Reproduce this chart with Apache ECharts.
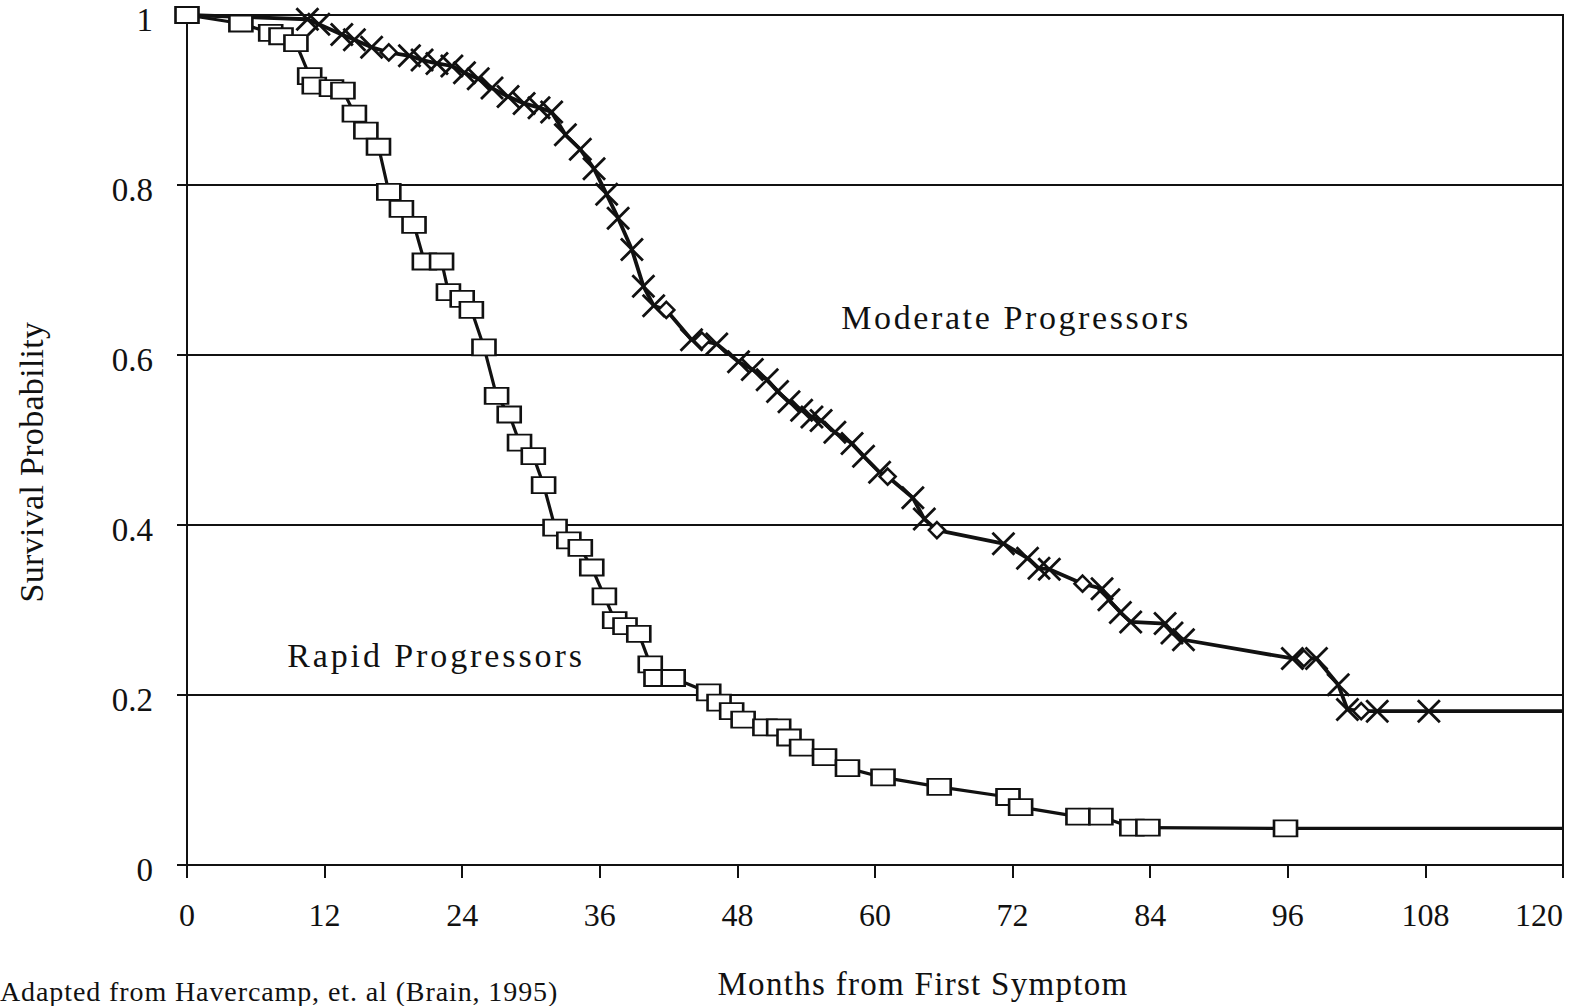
<!DOCTYPE html>
<html>
<head>
<meta charset="utf-8">
<title>Survival Probability — Rapid vs Moderate Progressors</title>
<script src="https://cdn.jsdelivr.net/npm/echarts@6/dist/echarts.min.js"></script>
<style>
  html, body { margin: 0; padding: 0; background: #fff; }
  #chart { width: 1577px; height: 1006px; }
</style>
</head>
<body>
<div id="chart"></div>
<script>
// Kaplan–Meier style survival estimates, months from first symptom.
const xTicks = [0, 12, 24, 36, 48, 60, 72, 84, 96, 108, 120];
const yTicks = [0, 0.2, 0.4, 0.6, 0.8, 1];

// Rapid progressors (square markers); last entry is the end of follow-up.
const rapidMonths = [0, 4.7, 7.3, 8.2, 9.5, 10.7, 11.1, 12.6, 13.6, 14.6,
  15.6, 16.7, 17.6, 18.7, 19.8, 20.7, 22.2, 22.8, 24.0, 24.8,
  25.9, 27.0, 28.1, 29.0, 30.2, 31.1, 32.1, 33.3, 34.3, 35.3,
  36.4, 37.3, 38.2, 39.4, 40.4, 40.9, 42.4, 45.5, 46.4, 47.5,
  48.5, 50.4, 51.6, 52.5, 53.6, 55.6, 57.6, 60.7, 65.6, 71.6,
  72.7, 77.7, 79.7, 82.4, 83.8, 95.8, 120];
const rapidSurvival = [1.0, 0.99, 0.979, 0.975, 0.967, 0.928, 0.917, 0.914, 0.911, 0.884,
  0.864, 0.845, 0.792, 0.772, 0.753, 0.710, 0.710, 0.674, 0.666, 0.653,
  0.609, 0.552, 0.530, 0.497, 0.481, 0.447, 0.397, 0.382, 0.373, 0.350,
  0.316, 0.288, 0.281, 0.272, 0.236, 0.220, 0.220, 0.203, 0.191, 0.181,
  0.171, 0.162, 0.162, 0.150, 0.138, 0.127, 0.114, 0.103, 0.092, 0.080,
  0.068, 0.057, 0.057, 0.044, 0.044, 0.043, 0.043];

// Moderate progressors (cross markers); first and last entries are start / end of follow-up.
const moderateMonths = [0, 10.5, 11.5, 13.5, 14.6, 16.1, 19.4, 20.5, 21.8, 23.1,
  24.2, 25.4, 26.6, 28.0, 29.4, 30.7, 31.8, 33.0, 34.3, 35.5,
  36.6, 37.6, 38.8, 39.8, 40.7, 44.0, 46.2, 48.1, 49.3, 50.6,
  51.5, 52.5, 53.6, 54.5, 55.3, 56.5, 58.0, 59.0, 60.4, 63.3,
  64.3, 71.2, 73.3, 74.3, 75.2, 79.8, 80.4, 81.4, 82.3, 85.3,
  85.9, 86.9, 96.4, 98.5, 100.4, 101.2, 103.8, 108.3, 120];
const moderateSurvival = [1.0, 0.995, 0.989, 0.977, 0.971, 0.962, 0.952, 0.947, 0.943, 0.940,
  0.932, 0.925, 0.914, 0.904, 0.896, 0.891, 0.886, 0.859, 0.842, 0.819,
  0.789, 0.761, 0.724, 0.681, 0.658, 0.618, 0.613, 0.592, 0.583, 0.571,
  0.557, 0.545, 0.535, 0.527, 0.523, 0.509, 0.496, 0.481, 0.462, 0.432,
  0.407, 0.378, 0.361, 0.349, 0.348, 0.325, 0.312, 0.297, 0.286, 0.284,
  0.273, 0.265, 0.243, 0.243, 0.212, 0.183, 0.181, 0.181, 0.181];

// Moderate progressors, points drawn with an open diamond.
const moderateOpenMonths = [17.6, 41.8, 44.9, 61.1, 65.4, 78.1, 97.4, 102.4];
const moderateOpenSurvival = [0.956, 0.653, 0.617, 0.457, 0.394, 0.331, 0.243, 0.181];

const labels = {
  moderate: 'Moderate Progressors',
  rapid: 'Rapid Progressors',
  xTitle: 'Months from First Symptom',
  yTitle: 'Survival Probability',
  source: 'Adapted from Havercamp, et. al (Brain, 1995)'
};

const FONT = "'Liberation Serif', 'Times New Roman', serif";
const INK = '#111';
const CROSS = 'path://M0,0L20,20M20,0L0,20';

// Letter spacing (px) for the typeset captions.
const captionSpacing = {};
captionSpacing[labels.moderate] = 2.6;
captionSpacing[labels.rapid] = 2.9;
captionSpacing[labels.xTitle] = 1.3;
captionSpacing[labels.yTitle] = 0.3;
captionSpacing[labels.source] = 0.9;

const squareStyle = { color: '#fff', borderColor: INK, borderWidth: 2.2 };
const crossStyle = { color: INK, borderColor: INK, borderWidth: 2.8 };
const diamondStyle = { color: '#fff', borderColor: INK, borderWidth: 2.6 };

const rapidData = rapidMonths.map((m, i) => {
  const item = { value: [m, rapidSurvival[i]] };
  if (i === rapidMonths.length - 1) item.symbol = 'none';
  return item;
});

const moderatePoints = moderateMonths.map((m, i) => ({
  m, s: moderateSurvival[i],
  kind: (i === 0 || i === moderateMonths.length - 1) ? 'none' : 'cross'
})).concat(moderateOpenMonths.map((m, i) => ({ m, s: moderateOpenSurvival[i], kind: 'open' })))
  .sort((a, b) => a.m - b.m);

const moderateData = moderatePoints.map(p => {
  if (p.kind === 'none') return { value: [p.m, p.s], symbol: 'none' };
  if (p.kind === 'open') return { value: [p.m, p.s], symbol: 'diamond', symbolSize: [16, 16], itemStyle: diamondStyle };
  return { value: [p.m, p.s], symbol: CROSS, symbolSize: [22, 22], itemStyle: crossStyle };
});

const chart = echarts.init(document.getElementById('chart'), null, { renderer: 'svg' });

const option = {
  backgroundColor: '#fff',
  animation: false,
  grid: {
    left: 187, right: 14, top: 15, bottom: 141,
    outerBoundsMode: 'none',
    containLabel: false,
    show: true, borderColor: INK, borderWidth: 2
  },
  xAxis: {
    type: 'value', min: xTicks[0], max: xTicks[xTicks.length - 1],
    interval: xTicks[1] - xTicks[0],
    axisLine: { show: true, lineStyle: { color: INK, width: 2 } },
    axisTick: { show: true, length: 13, lineStyle: { color: INK, width: 2 } },
    axisLabel: { color: INK, fontFamily: FONT, fontSize: 32, margin: 34, alignMaxLabel: 'right' },
    splitLine: { show: false }
  },
  yAxis: {
    type: 'value', min: yTicks[0], max: yTicks[yTicks.length - 1],
    interval: yTicks[1] - yTicks[0],
    axisLine: { show: true, lineStyle: { color: INK, width: 2 } },
    axisTick: { show: true, length: 10, lineStyle: { color: INK, width: 2 } },
    axisLabel: { color: INK, fontFamily: FONT, fontSize: 33, margin: 34, verticalAlign: 'top', lineHeight: 10 },
    splitLine: { show: true, lineStyle: { color: INK, width: 1.8 } }
  },
  series: [
    {
      name: labels.moderate,
      type: 'line',
      data: moderateData,
      showAllSymbol: true,
      lineStyle: { color: INK, width: 3.8 },
      itemStyle: crossStyle,
      z: 3
    },
    {
      name: labels.rapid,
      type: 'line',
      data: rapidData,
      showAllSymbol: true,
      symbol: 'rect',
      symbolSize: [23, 16],
      lineStyle: { color: INK, width: 3.2 },
      itemStyle: squareStyle,
      z: 4
    }
  ],
  graphic: [
    { type: 'text', x: 1016, y: 317, silent: true,
      style: { text: labels.moderate, font: '34px ' + FONT, fill: INK, textAlign: 'center', verticalAlign: 'middle' } },
    { type: 'text', x: 436, y: 655, silent: true,
      style: { text: labels.rapid, font: '34px ' + FONT, fill: INK, textAlign: 'center', verticalAlign: 'middle' } },
    { type: 'text', x: 923, y: 984, silent: true,
      style: { text: labels.xTitle, font: '33px ' + FONT, fill: INK, textAlign: 'center', verticalAlign: 'middle' } },
    { type: 'text', x: 31, y: 462, rotation: Math.PI / 2, silent: true,
      style: { text: labels.yTitle, font: '34px ' + FONT, fill: INK, textAlign: 'center', verticalAlign: 'middle' } },
    { type: 'text', x: 0, y: 991, silent: true,
      style: { text: labels.source, font: '28px ' + FONT, fill: INK, textAlign: 'left', verticalAlign: 'middle' } }
  ]
};

chart.setOption(option);

function applyCaptionSpacing() {
  document.querySelectorAll('#chart text').forEach(t => {
    const s = captionSpacing[t.textContent];
    if (s != null) t.style.letterSpacing = s + 'px';
  });
}
chart.on('finished', applyCaptionSpacing);
applyCaptionSpacing();
setTimeout(applyCaptionSpacing, 50);
</script>
</body>
</html>
